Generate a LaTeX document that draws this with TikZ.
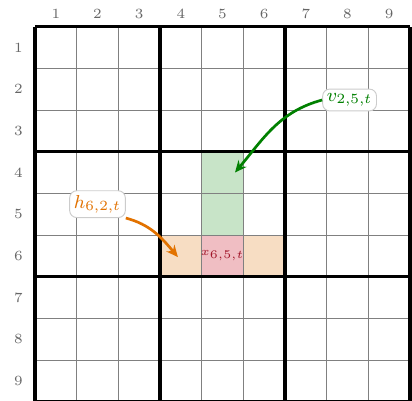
\documentclass[tikz,border=0pt]{standalone}
\usetikzlibrary{arrows.meta}
\definecolor{vgreen}{RGB}{0,128,0}
\definecolor{horange}{RGB}{226,114,0}
\definecolor{xred}{RGB}{160,20,40}
\definecolor{gfill}{RGB}{200,228,200}
\definecolor{ofill}{RGB}{247,221,195}
\definecolor{rfill}{RGB}{240,190,195}
\tikzset{
  thinline/.style={gray, line width=0.4pt},
  thickline/.style={black, line width=1.35pt},
  numlabel/.style={font=\fontsize{6}{7}\selectfont, text=black!60},
  tag/.style={draw=gray!40, fill=white, rounded corners=3pt, inner sep=1.8pt, font=\footnotesize},
  pointer/.style={line width=1.15pt, -{Stealth[length=5pt,width=4.5pt]}},
}
\begin{document}
\begin{tikzpicture}[x=0.625cm, y=0.625cm]
\useasboundingbox (-0.84,0.04) rectangle (9.048,9.64);
\fill[gfill] (4,4) rectangle (5,6);
\fill[ofill] (3,3) rectangle (6,4);
\fill[rfill] (4,3) rectangle (5,4);
\foreach \i in {1,2,4,5,7,8} {
  \draw[thinline] (\i,0) -- (\i,9);
  \draw[thinline] (0,\i) -- (9,\i);
}
\foreach \i in {0,3,6,9} {
  \draw[thickline] (\i,0) -- (\i,9);
  \draw[thickline] (0,\i) -- (9,\i);
}
\foreach \c in {1,...,9} {
  \node[numlabel] (col\c) at (\c-0.5,9.31) {\c};
  \node[numlabel] (row\c) at (-0.4,9.5-\c) {\c};
}
\node[font=\tiny, text=xred] (x) at (4.5,3.5) {$x_{6,5,t}$};
\coordinate (vt) at (4.8,5.5);
\coordinate (ht) at (3.43,3.47);
\node[tag, text=vgreen] (v) at (7.55,7.24) {$v_{2,5,t}$};
\node[tag, text=horange] (h) at (1.5,4.74) {$h_{6,2,t}$};
\draw[pointer, vgreen] (v.west) to[out=195, in=50] (vt);
\draw[pointer, horange] (h.south east) to[out=-15, in=130] (ht);
\end{tikzpicture}
\end{document}
